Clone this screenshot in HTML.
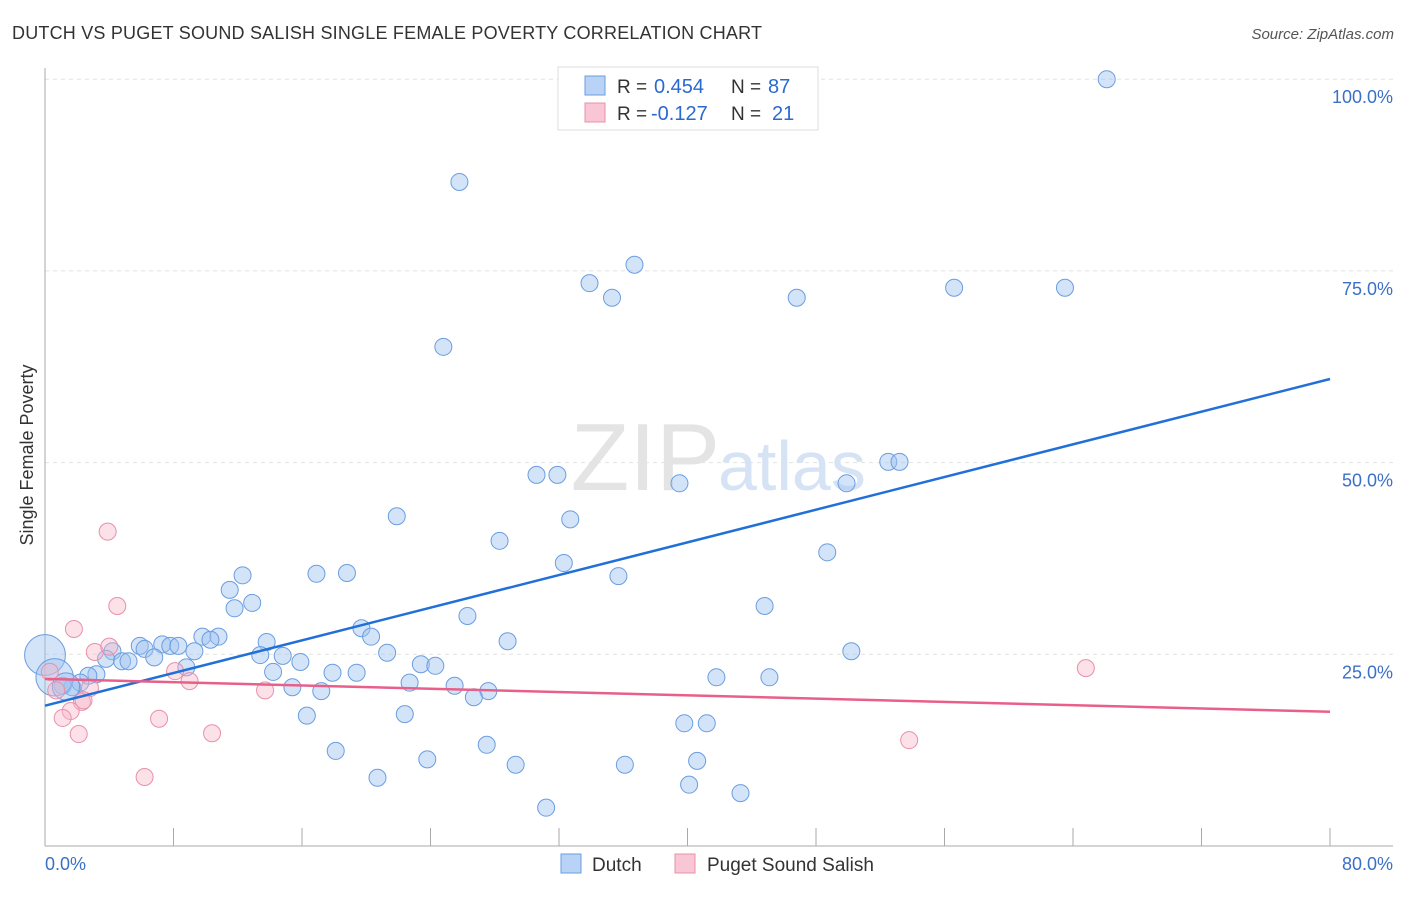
<!DOCTYPE html>
<html><head><meta charset="utf-8"><style>
body{margin:0;background:#fff;font-family:"Liberation Sans",sans-serif;}
svg text{font-family:"Liberation Sans",sans-serif;}
</style></head><body>
<svg width="1406" height="892" xmlns="http://www.w3.org/2000/svg">
<text x="12" y="39" font-size="18" fill="#333" textLength="750">DUTCH VS PUGET SOUND SALISH SINGLE FEMALE POVERTY CORRELATION CHART</text>
<text x="1394" y="39" font-size="15" fill="#555" font-style="italic" text-anchor="end">Source: ZipAtlas.com</text>
<g id="grid"></g>
<text x="720" y="490" font-size="96" fill="#e4e4e4" text-anchor="end" font-family="Liberation Serif">ZIP</text>
<text x="718" y="490" font-size="70" fill="#d6e3f5">atlas</text>
<g id="pts"></g>
<g id="lines"></g>
<text x="33" y="455" font-size="18" fill="#333" text-anchor="middle" transform="rotate(-90 33 455)">Single Female Poverty</text>
<text x="45" y="870" font-size="18" fill="#3a70c8">0.0%</text>
<text x="1393" y="870" font-size="18" fill="#3a70c8" text-anchor="end">80.0%</text>
<g>
<rect x="558" y="67" width="260" height="63" fill="#fff" stroke="#ddd"/>
<rect x="585" y="76" width="20" height="19" fill="#b8d3f5" stroke="#6a9de0"/>
<rect x="585" y="103" width="20" height="19" fill="#f9c6d5" stroke="#e890aa"/>
<text x="617" y="93" font-size="19" fill="#333">R =</text>
<text x="654" y="93" font-size="20" fill="#2a6ad0">0.454</text>
<text x="731" y="93" font-size="19" fill="#333">N =</text>
<text x="768" y="93" font-size="20" fill="#2a6ad0">87</text>
<text x="617" y="120" font-size="19" fill="#333">R =</text>
<text x="651" y="120" font-size="20" fill="#2a6ad0">-0.127</text>
<text x="731" y="120" font-size="19" fill="#333">N =</text>
<text x="772" y="120" font-size="20" fill="#2a6ad0">21</text>
</g>
<g>
<rect x="561" y="854" width="20" height="19" fill="#b8d3f5" stroke="#6a9de0"/>
<text x="592" y="871" font-size="19" fill="#333">Dutch</text>
<rect x="675" y="854" width="20" height="19" fill="#f9c6d5" stroke="#e890aa"/>
<text x="707" y="871" font-size="19" fill="#333">Puget Sound Salish</text>
</g>
</svg>
<script>
const dutchX=[66.1,25.8,36.7,33.9,35.3,46.8,56.6,63.5,24.8,52.5,53.2,30.6,31.9,39.5,49.9,21.9,32.7,28.3,48.7,32.3,35.7,12.3,16.9,18.8,11.5,12.9,11.8,44.8,26.3,19.7,20.3,28.8,9.8,10.8,10.3,13.8,5.9,7.3,6.2,7.8,8.3,9.3,4.2,6.8,3.8,4.8,5.2,13.4,14.8,21.3,50.2,15.9,23.4,24.3,8.8,14.2,17.9,19.4,3.2,2.7,41.8,45.1,22.7,25.5,15.4,17.2,27.6,26.7,1.7,2.2,1.1,16.3,22.4,39.8,41.2,27.5,18.1,23.8,29.3,36.1,40.6,20.7,40.1,43.3,31.2,0,0.6,1.3];
const dutchY=[100,86.6,75.8,73.4,71.5,71.5,72.8,72.8,65.1,50.1,50.1,48.4,48.4,47.3,47.3,43.0,42.6,39.8,38.3,36.9,35.2,35.3,35.5,35.6,33.4,31.7,31.0,31.3,30.0,28.4,27.3,26.7,27.3,27.3,26.9,26.6,26.1,26.3,25.7,26.1,26.1,25.4,25.4,24.6,24.4,24.1,24.1,24.9,24.8,25.2,25.4,24.0,23.7,23.5,23.3,22.7,22.6,22.6,22.4,22.2,22.0,22.0,21.3,20.9,20.7,20.2,20.2,19.4,20.7,21.3,20.9,17.0,17.2,16.0,16.0,13.2,12.4,11.3,10.6,10.6,11.1,8.9,8.0,6.9,5.0,24.9,22.0,20.8];
const dutchSize=[1,1,1,1,1,1,1,1,1,1,1,1,1,1,1,1,1,1,1,1,1,1,1,1,1,1,1,1,1,1,1,1,1,1,1,1,1,1,1,1,1,1,1,1,1,1,1,1,1,1,1,1,1,1,1,1,1,1,1,1,1,1,1,1,1,1,1,1,1,1,1,1,1,1,1,1,1,1,1,1,1,1,1,1,1,2.4,2.2,1.6];
const salishX=[3.9,4.5,1.8,3.1,4.0,8.1,9.0,13.7,64.8,0.3,0.7,2.8,2.3,1.6,1.1,7.1,2.1,10.4,53.8,6.2,2.4];
const salishY=[41.0,31.3,28.3,25.3,26.0,22.8,21.5,20.3,23.2,22.7,20.3,20.6,18.8,17.6,16.7,16.6,14.6,14.7,13.8,9.0,19.0];
const yTicks=[25,50,75,100];
const yTickLabels=["25.0%","50.0%","75.0%","100.0%"];
const dutchTrend=[18.3,60.9];
const salishTrend=[21.8,17.5];
const X0=45,X1=1330,Y0=846,YPER=191.7/25;
const sx=v=>X0+v/80*(X1-X0), sy=v=>Y0-v*YPER;
const NS="http://www.w3.org/2000/svg";
function mk(t,a,p){const e=document.createElementNS(NS,t);for(const k in a)e.setAttribute(k,a[k]);p.appendChild(e);return e;}
const grid=document.getElementById('grid');
yTicks.forEach((t,i)=>{
 const l=mk('line',{x1:45,x2:1393,y1:sy(t),y2:sy(t),stroke:'#e2e2e2','stroke-dasharray':'4,4'},grid);
 
 
 const tx=mk('text',{x:1393,y:sy(t)+24,'font-size':18,fill:'#3a70c8','text-anchor':'end'},grid);
 tx.textContent=yTickLabels[i];
 
 
});
mk('line',{x1:45,x2:45,y1:68,y2:846,stroke:'#aaa'},grid);
mk('line',{x1:45,x2:1393,y1:846,y2:846,stroke:'#aaa'},grid);
for(let i=1;i<=10;i++){const x=sx(i*8);const t=mk('line',{x1:x,x2:x,y1:828,y2:846,stroke:'#aaa'},grid);
 
 }
const pts=document.getElementById('pts');
dutchX.forEach((v,i)=>{const c=mk('circle',{cx:sx(v),cy:sy(dutchY[i]),r:8.5*dutchSize[i],fill:'rgba(160,196,240,0.45)',stroke:'#6a9de0','stroke-width':1},pts);
 
 });
salishX.forEach((v,i)=>{const c=mk('circle',{cx:sx(v),cy:sy(salishY[i]),r:8.5,fill:'rgba(248,180,200,0.4)',stroke:'#e890aa','stroke-width':1},pts);
 
 });
const lines=document.getElementById('lines');
const l1=mk('line',{x1:sx(0),x2:sx(80),y1:sy(dutchTrend[0]),y2:sy(dutchTrend[1]),stroke:'#2170d8','stroke-width':2.5},lines);


const l2=mk('line',{x1:sx(0),x2:sx(80),y1:sy(salishTrend[0]),y2:sy(salishTrend[1]),stroke:'#e8608a','stroke-width':2.5},lines);


</script>
</body></html>
